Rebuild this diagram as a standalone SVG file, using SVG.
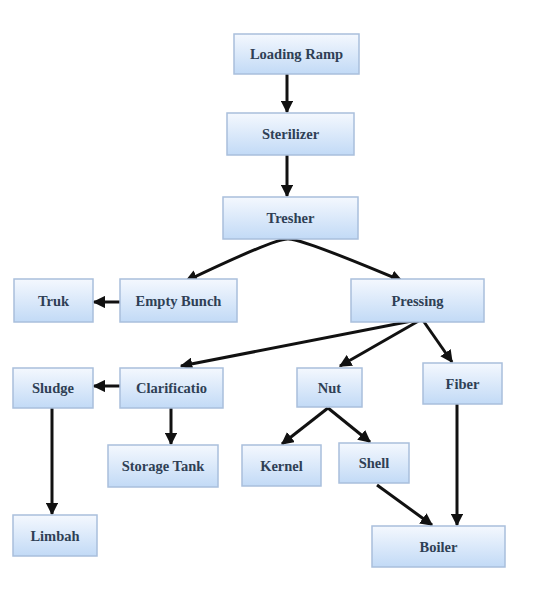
<svg xmlns="http://www.w3.org/2000/svg" width="544" height="596" viewBox="0 0 544 596">
  <defs>
    <linearGradient id="g" x1="0" y1="0" x2="0" y2="1">
      <stop offset="0" stop-color="#f4f8fe"/>
      <stop offset="1" stop-color="#c2daf6"/>
    </linearGradient>
    <marker id="ah" viewBox="0 0 10 10" refX="9" refY="5" markerWidth="4.2" markerHeight="4.2" orient="auto" markerUnits="strokeWidth">
      <path d="M0,0 L10,5 L0,10 z" fill="#111"/>
    </marker>
  </defs>
  <style>
    .box { fill: url(#g); stroke: #a9bfdc; stroke-width: 1.5; }
    .t { font-family: "Liberation Serif", serif; font-size: 14.5px; font-weight: bold; fill: #2f3f55; text-anchor: middle; dominant-baseline: central; }
    .c { fill: none; stroke: #111; stroke-width: 3; marker-end: url(#ah); }
  </style>
  <rect width="544" height="596" fill="#ffffff"/>
  <g id="connectors">
    <path class="c" d="M287,74 L287,112"/>
    <path class="c" d="M287,155 L287,196"/>
    <path class="c" d="M288,239 Q276,238 186,281"/>
    <path class="c" d="M288,239 Q300,238 402,281"/>
    <path class="c" d="M120,302 L94,302"/>
    <path class="c" d="M422,319 L181,366"/>
    <path class="c" d="M422,319 L340,366"/>
    <path class="c" d="M422,319 L452,362"/>
    <path class="c" d="M120,386 L94,386"/>
    <path class="c" d="M171,408 L171,444"/>
    <path class="c" d="M52,408 L52,514"/>
    <path class="c" d="M328,408 L282,444"/>
    <path class="c" d="M328,408 L370,442"/>
    <path class="c" d="M377,485 L432,525"/>
    <path class="c" d="M457,404 L457,525"/>
  </g>
  <g id="loading-ramp">
    <rect class="box" x="234" y="34" width="125" height="40"/>
    <text class="t" x="296.5" y="54">Loading Ramp</text>
  </g>
  <g id="sterilizer">
    <rect class="box" x="227" y="113" width="127" height="42"/>
    <text class="t" x="290.5" y="134">Sterilizer</text>
  </g>
  <g id="tresher">
    <rect class="box" x="223" y="197" width="135" height="42"/>
    <text class="t" x="290.5" y="218">Tresher</text>
  </g>
  <g id="truk">
    <rect class="box" x="14" y="279" width="79" height="43"/>
    <text class="t" x="53.5" y="300.5">Truk</text>
  </g>
  <g id="empty-bunch">
    <rect class="box" x="120" y="279" width="117" height="43"/>
    <text class="t" x="178.5" y="300.5">Empty Bunch</text>
  </g>
  <g id="pressing">
    <rect class="box" x="351" y="279" width="133" height="43"/>
    <text class="t" x="417.5" y="300.5">Pressing</text>
  </g>
  <g id="sludge">
    <rect class="box" x="13" y="368" width="80" height="40"/>
    <text class="t" x="53" y="388">Sludge</text>
  </g>
  <g id="clarification">
    <rect class="box" x="120" y="368" width="103" height="40"/>
    <text class="t" x="171.5" y="388">Clarificatio</text>
  </g>
  <g id="nut">
    <rect class="box" x="297" y="368" width="65" height="39"/>
    <text class="t" x="329.5" y="387.5">Nut</text>
  </g>
  <g id="fiber">
    <rect class="box" x="423" y="363" width="79" height="41"/>
    <text class="t" x="462.5" y="383.5">Fiber</text>
  </g>
  <g id="storage-tank">
    <rect class="box" x="108" y="445" width="110" height="42"/>
    <text class="t" x="163" y="466">Storage Tank</text>
  </g>
  <g id="kernel">
    <rect class="box" x="242" y="445" width="79" height="41"/>
    <text class="t" x="281.5" y="465.5">Kernel</text>
  </g>
  <g id="shell">
    <rect class="box" x="339" y="443" width="70" height="40"/>
    <text class="t" x="374" y="463">Shell</text>
  </g>
  <g id="limbah">
    <rect class="box" x="13" y="515" width="84" height="41"/>
    <text class="t" x="55" y="535.5">Limbah</text>
  </g>
  <g id="boiler">
    <rect class="box" x="372" y="526" width="133" height="41"/>
    <text class="t" x="438.5" y="546.5">Boiler</text>
  </g>
</svg>
